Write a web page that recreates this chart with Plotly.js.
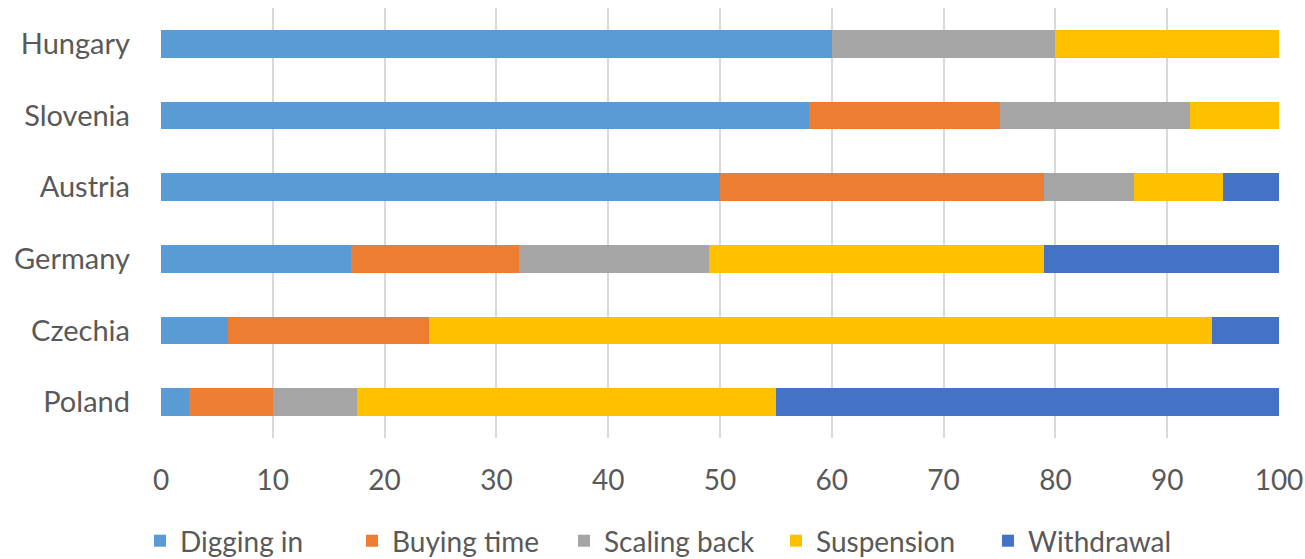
<!DOCTYPE html>
<html>
<head>
<meta charset="utf-8">
<script src="https://cdn.plot.ly/plotly-3.0.1.min.js"></script>
<style>html,body{margin:0;padding:0;background:#fff;}#chart{width:1305px;height:559px;}</style>
</head>
<body>
<div id="chart"></div>
<script>
// Countries, bottom to top as drawn on the category axis
const countries = ["Poland", "Czechia", "Germany", "Austria", "Slovenia", "Hungary"];

// Share of each response strategy (%)
const diggingIn   = [2.5, 6, 17, 50, 58, 60];
const buyingTime  = [7.5, 18, 15, 29, 17, 0];
const scalingBack = [7.5, 0, 17, 8, 17, 20];
const suspension  = [37.5, 70, 30, 8, 8, 20];
const withdrawal  = [45, 6, 21, 5, 0, 0];

const xTicks = [0, 10, 20, 30, 40, 50, 60, 70, 80, 90, 100];

const series = [
  {name: "Digging in",   values: diggingIn,   color: "#5b9bd5"},
  {name: "Buying time",  values: buyingTime,  color: "#ed7d31"},
  {name: "Scaling back", values: scalingBack, color: "#a5a5a5"},
  {name: "Suspension",   values: suspension,  color: "#ffc000"},
  {name: "Withdrawal",   values: withdrawal,  color: "#4472c4"}
];

const traces = series.map(s => ({
  type: "bar",
  orientation: "h",
  name: s.name,
  y: countries,
  x: s.values,
  marker: {color: s.color, line: {width: 0}},
  hoverinfo: "name+x"
}));

const family = "Lato, 'Open Sans', sans-serif";
const grey = "#595959";

const layout = {
  width: 1305,
  height: 559,
  barmode: "stack",
  bargap: 0.61,
  paper_bgcolor: "#ffffff",
  plot_bgcolor: "#ffffff",
  margin: {l: 161, r: 26, t: 8, b: 121, autoexpand: false},
  font: {family: family, size: 28, color: grey},
  showlegend: true,
  legend: {
    orientation: "h",
    xref: "container", x: 140 / 1305, xanchor: "left",
    yref: "container", y: 18 / 559, yanchor: "middle",
    font: {family: family, size: 28, color: grey},
    traceorder: "normal",
    entrywidth: 167,
    entrywidthmode: "pixels",
    itemwidth: 30
  },
  xaxis: {
    range: [0, 100],
    tickvals: xTicks,
    ticktext: xTicks.map(String),
    showgrid: true,
    gridcolor: "#d9d9d9",
    gridwidth: 2,
    zeroline: false,
    showline: false,
    ticks: "",
    ticklabelstandoff: 23,
    tickfont: {family: family, size: 28, color: grey},
    fixedrange: true
  },
  yaxis: {
    categoryorder: "array",
    categoryarray: countries,
    showgrid: false,
    zeroline: false,
    showline: false,
    ticks: "",
    ticklabelstandoff: 30,
    tickfont: {family: family, size: 29, color: grey},
    fixedrange: true
  }
};

Plotly.newPlot("chart", traces, layout, {displayModeBar: false, staticPlot: true});
</script>
</body>
</html>
